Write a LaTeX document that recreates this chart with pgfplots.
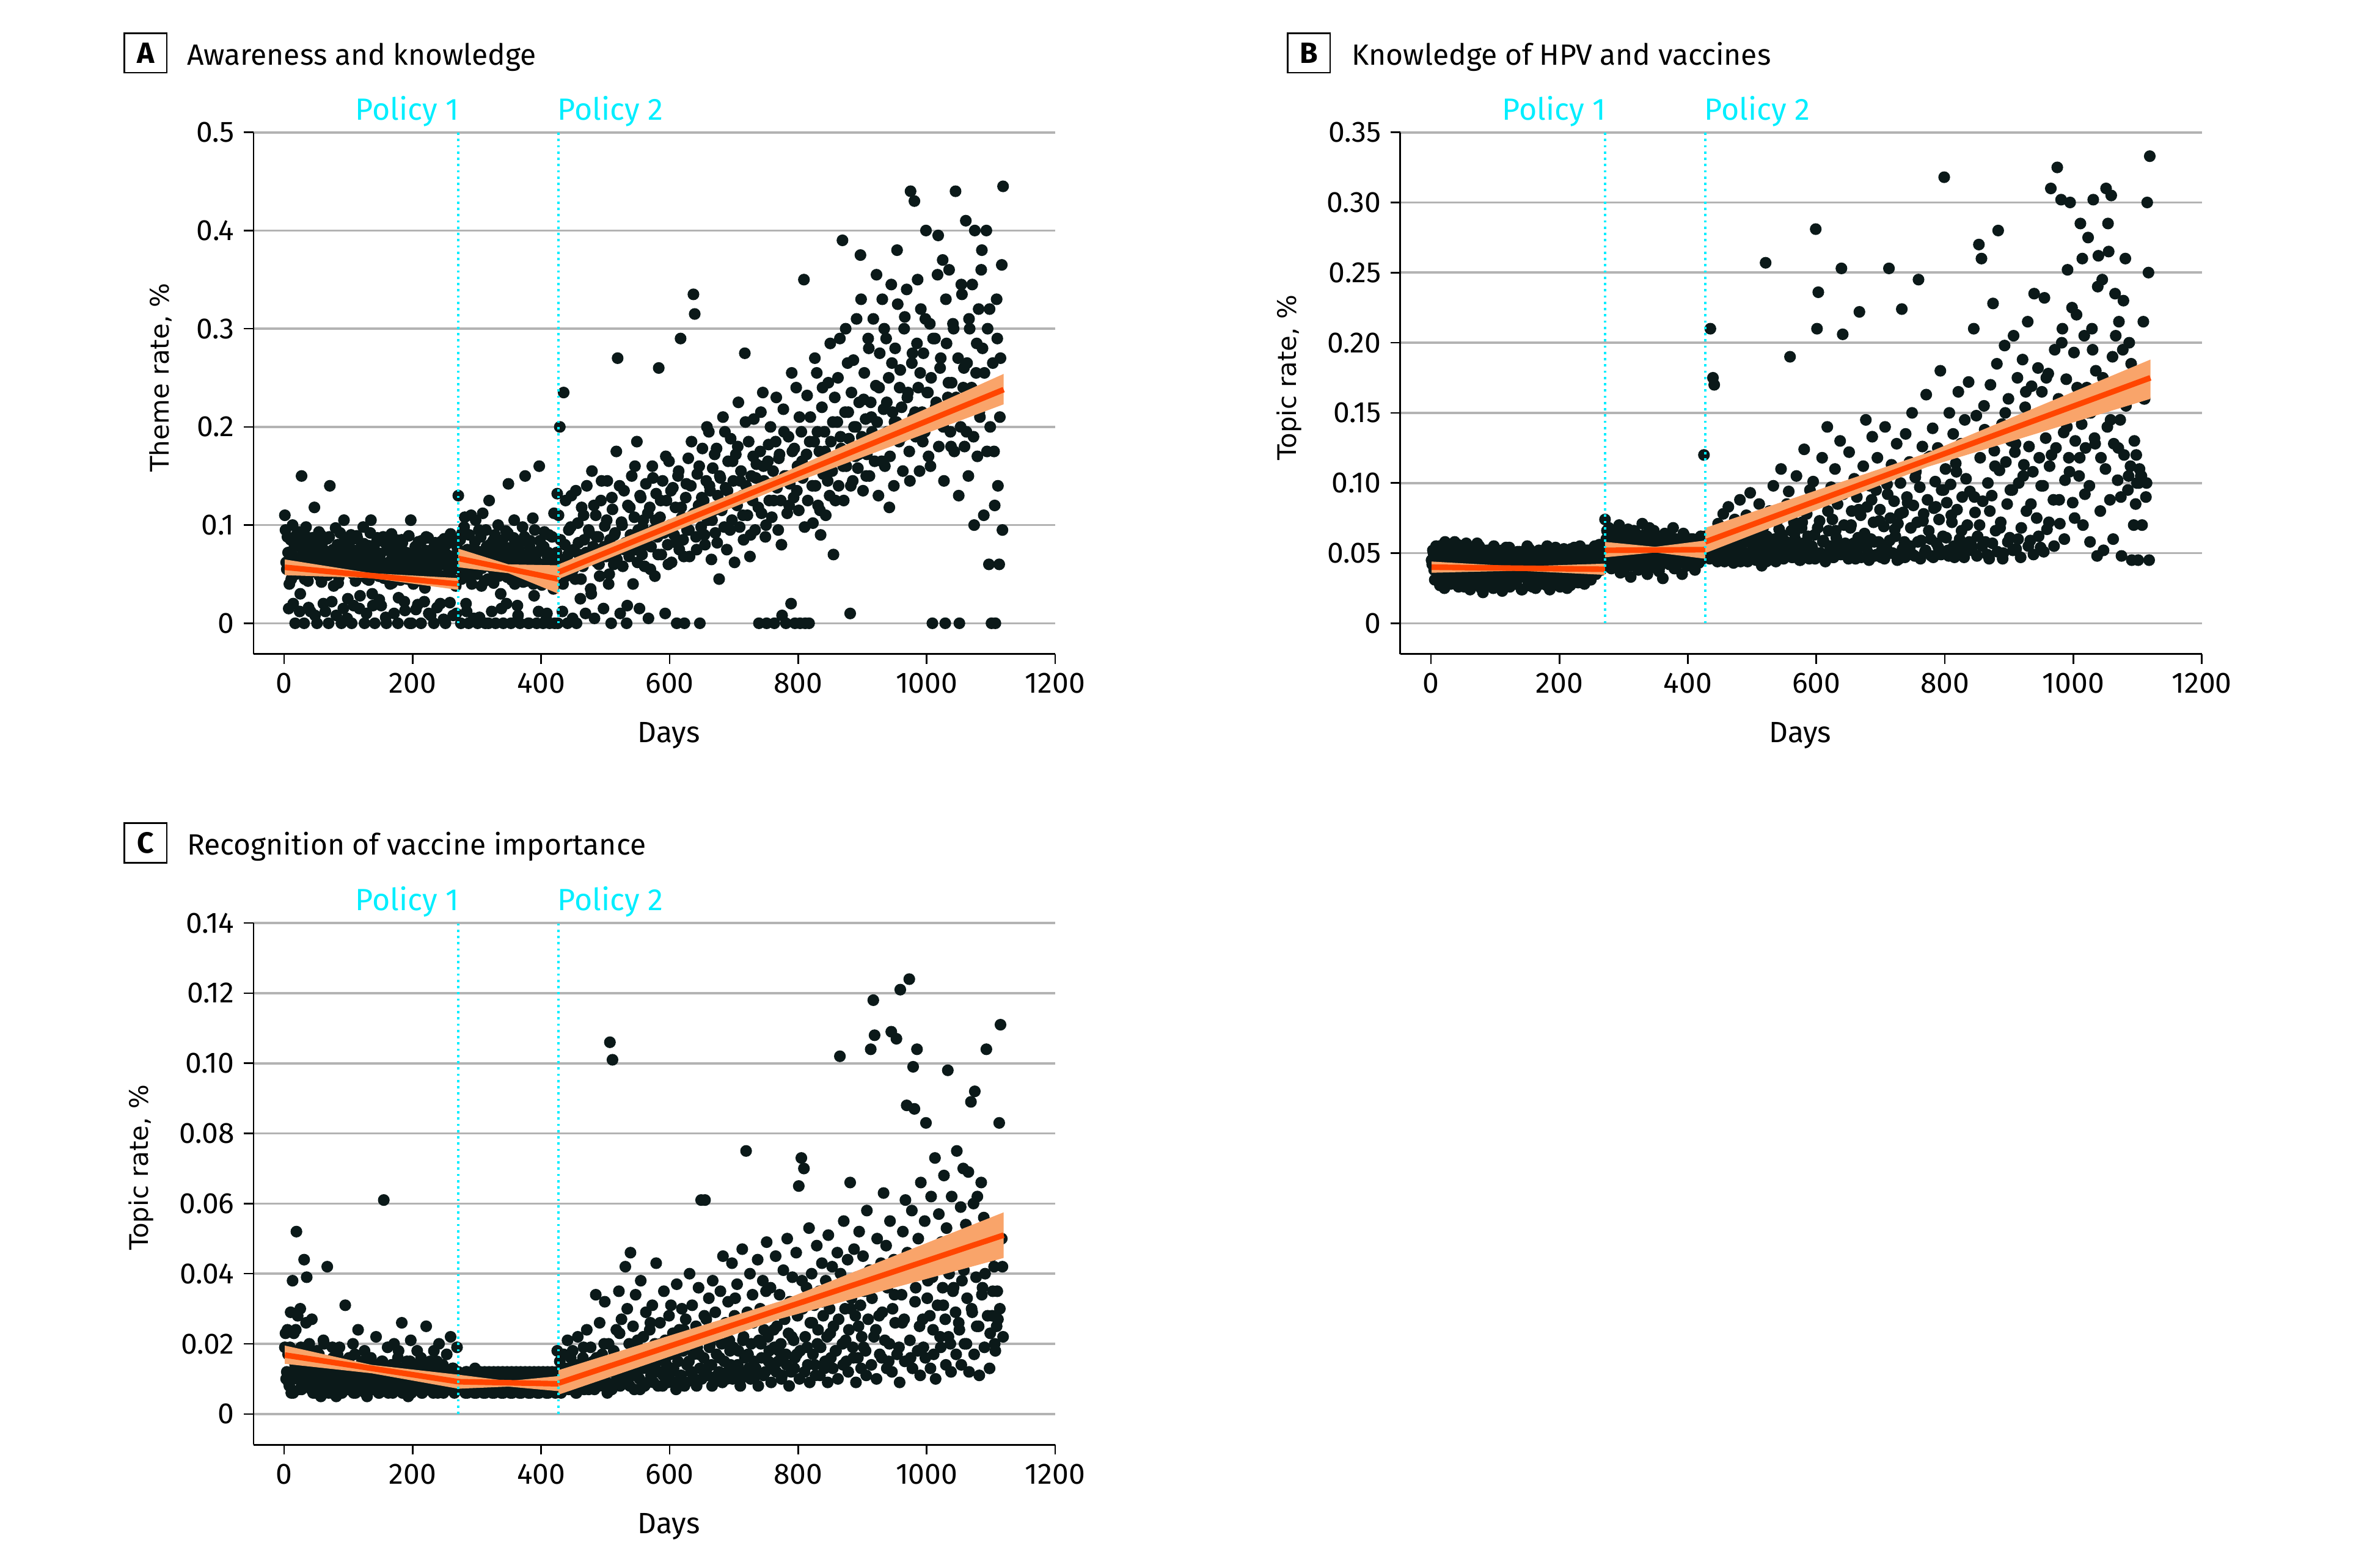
\documentclass[border=0pt]{standalone}
\usepackage{pgfplots}
\pgfplotsset{compat=1.18}
\usepackage{pgfplotstable}
\usepackage{fontspec}
\setmainfont{Fira Sans}
\newfontfamily\ylabfont{DejaVu Sans}
\definecolor{dotc}{HTML}{0B1919}
\definecolor{fitline}{HTML}{FF4500}
\definecolor{fitband}{HTML}{F9A46A}
\definecolor{polc}{HTML}{00EEFF}
\definecolor{gridc}{HTML}{B3B3B3}

% odd days
\pgfplotstableread{
d a b c
1 0.110 0.045 0.019
3 0.062 0.052 0.010
5 0.088 0.038 0.024
7 0.015 0.041 0.009
9 0.072 0.048 0.019
11 0.045 0.035 0.006
13 0.100 0.055 0.038
15 0.068 0.030 0.023
17 0.000 0.043 0.014
19 0.081 0.050 0.052
21 0.058 0.025 0.028
23 0.093 0.047 0.011
25 0.030 0.039 0.030
27 0.150 0.033 0.007
29 0.075 0.056 0.016
31 0.000 0.028 0.044
33 0.062 0.044 0.012
35 0.088 0.036 0.039
37 0.043 0.058 0.008
39 0.070 0.031 0.020
41 0.012 0.049 0.010
43 0.083 0.026 0.027
45 0.055 0.042 0.006
47 0.118 0.053 0.014
49 0.066 0.034 0.012
51 0.000 0.046 0.018
53 0.079 0.029 0.009
55 0.048 0.057 0.016
57 0.090 0.037 0.005
59 0.061 0.043 0.013
61 0.020 0.024 0.021
63 0.074 0.051 0.008
65 0.052 0.035 0.011
67 0.086 0.040 0.042
69 0.000 0.032 0.006
71 0.140 0.048 0.015
73 0.058 0.027 0.010
75 0.071 0.055 0.019
77 0.038 0.038 0.007
79 0.065 0.045 0.012
81 0.008 0.022 0.005
83 0.080 0.052 0.017
85 0.047 0.033 0.009
87 0.092 0.041 0.013
89 0.000 0.030 0.006
91 0.069 0.049 0.011
93 0.105 0.036 0.008
95 0.056 0.044 0.031
97 0.074 0.025 0.014
99 0.025 0.053 0.009
101 0.062 0.039 0.016
103 0.084 0.028 0.007
105 0.000 0.047 0.012
107 0.050 0.034 0.020
109 0.072 0.050 0.010
111 0.043 0.023 0.006
113 0.089 0.042 0.013
115 0.060 0.037 0.024
117 0.015 0.054 0.008
119 0.077 0.031 0.011
121 0.052 0.045 0.015
123 0.098 0.026 0.007
125 0.000 0.040 0.018
127 0.066 0.048 0.010
129 0.045 0.032 0.005
131 0.079 0.043 0.013
133 0.057 0.029 0.009
135 0.105 0.051 0.016
137 0.030 0.036 0.012
139 0.068 0.041 0.007
141 0.000 0.024 0.014
143 0.055 0.050 0.022
145 0.087 0.033 0.010
147 0.048 0.046 0.006
149 0.070 0.038 0.013
151 0.018 0.027 0.008
153 0.062 0.053 0.015
155 0.046 0.035 0.061
157 0.082 0.042 0.011
159 0.000 0.030 0.007
161 0.058 0.049 0.019
163 0.074 0.025 0.012
165 0.040 0.044 0.009
167 0.091 0.037 0.014
169 0.063 0.051 0.006
171 0.010 0.028 0.020
173 0.052 0.043 0.011
175 0.078 0.034 0.008
177 0.000 0.047 0.016
179 0.066 0.032 0.010
181 0.044 0.055 0.013
183 0.085 0.039 0.026
185 0.056 0.024 0.007
187 0.022 0.045 0.012
189 0.071 0.036 0.009
191 0.049 0.052 0.015
193 0.062 0.030 0.005
195 0.000 0.041 0.011
197 0.105 0.048 0.021
199 0.058 0.033 0.008
201 0.040 0.026 0.014
203 0.073 0.044 0.010
205 0.014 0.038 0.007
207 0.060 0.053 0.018
209 0.083 0.031 0.012
211 0.047 0.046 0.009
213 0.000 0.035 0.016
215 0.069 0.049 0.006
217 0.055 0.027 0.013
219 0.036 0.042 0.010
221 0.088 0.037 0.025
223 0.061 0.054 0.008
225 0.010 0.032 0.012
227 0.074 0.045 0.015
229 0.050 0.029 0.007
231 0.066 0.051 0.011
233 0.000 0.040 0.018
235 0.082 0.034 0.009
237 0.045 0.047 0.013
239 0.058 0.028 0.006
241 0.075 0.043 0.020
243 0.020 0.036 0.010
245 0.063 0.052 0.008
247 0.048 0.039 0.014
249 0.086 0.031 0.011
251 0.000 0.048 0.007
253 0.070 0.044 0.017
255 0.042 0.055 0.012
257 0.059 0.035 0.009
259 0.091 0.050 0.022
261 0.054 0.042 0.010
263 0.008 0.046 0.013
265 0.067 0.038 0.006
267 0.038 0.053 0.011
269 0.078 0.045 0.019
271 0.130 0.074 0.012
273 0.055 0.060 0.008
275 0.000 0.045 0.010
277 0.092 0.068 0.007
279 0.062 0.051 0.011
281 0.108 0.039 0.009
283 0.020 0.058 0.012
285 0.075 0.047 0.006
287 0.000 0.063 0.010
289 0.048 0.053 0.008
291 0.110 0.044 0.011
293 0.066 0.070 0.007
295 0.005 0.036 0.009
297 0.083 0.056 0.013
299 0.058 0.049 0.006
301 0.000 0.061 0.010
303 0.095 0.042 0.008
305 0.070 0.052 0.012
307 0.038 0.067 0.007
309 0.112 0.047 0.009
311 0.061 0.033 0.011
313 0.000 0.059 0.006
315 0.078 0.050 0.010
317 0.045 0.041 0.008
319 0.125 0.064 0.012
321 0.067 0.054 0.007
323 0.012 0.038 0.009
325 0.084 0.057 0.011
327 0.052 0.046 0.006
329 0.000 0.071 0.010
331 0.073 0.050 0.008
333 0.100 0.043 0.012
335 0.058 0.062 0.007
337 0.030 0.035 0.009
339 0.081 0.055 0.011
341 0.000 0.048 0.006
343 0.064 0.058 0.010
345 0.094 0.040 0.008
347 0.047 0.066 0.012
349 0.142 0.051 0.007
351 0.069 0.045 0.009
353 0.000 0.053 0.011
355 0.056 0.037 0.006
357 0.087 0.060 0.010
359 0.040 0.049 0.008
361 0.065 0.032 0.012
363 0.018 0.056 0.007
365 0.076 0.044 0.009
367 0.000 0.061 0.011
369 0.052 0.050 0.006
371 0.098 0.042 0.010
373 0.062 0.057 0.008
375 0.150 0.047 0.012
377 0.043 0.068 0.007
379 0.070 0.039 0.009
381 0.000 0.054 0.011
383 0.084 0.046 0.006
385 0.055 0.059 0.010
387 0.107 0.043 0.008
389 0.028 0.052 0.012
391 0.066 0.035 0.007
393 0.000 0.064 0.009
395 0.048 0.048 0.011
397 0.160 0.056 0.006
399 0.075 0.041 0.010
401 0.039 0.053 0.008
403 0.000 0.047 0.012
405 0.093 0.060 0.007
407 0.058 0.044 0.009
409 0.010 0.051 0.011
411 0.072 0.038 0.006
413 0.000 0.058 0.010
415 0.046 0.049 0.008
417 0.088 0.043 0.012
419 0.035 0.055 0.007
421 0.000 0.050 0.009
423 0.062 0.046 0.011
425 0.132 0.120 0.018
427 0.110 0.062 0.008
429 0.200 0.048 0.015
431 0.065 0.055 0.006
433 0.012 0.050 0.010
435 0.235 0.210 0.017
437 0.080 0.058 0.012
439 0.048 0.175 0.009
441 0.000 0.170 0.021
443 0.095 0.052 0.007
445 0.060 0.045 0.013
447 0.130 0.071 0.011
449 0.005 0.049 0.018
451 0.075 0.066 0.008
453 0.045 0.053 0.014
455 0.000 0.078 0.006
457 0.102 0.044 0.022
459 0.070 0.060 0.010
461 0.025 0.051 0.012
463 0.118 0.083 0.009
465 0.058 0.047 0.016
467 0.085 0.064 0.007
469 0.010 0.056 0.011
471 0.140 0.043 0.024
473 0.066 0.074 0.013
475 0.092 0.052 0.008
477 0.035 0.061 0.019
479 0.155 0.048 0.010
481 0.078 0.088 0.015
483 0.005 0.055 0.007
485 0.110 0.046 0.034
487 0.062 0.069 0.012
489 0.088 0.050 0.009
491 0.048 0.077 0.026
493 0.125 0.044 0.011
495 0.072 0.058 0.017
497 0.015 0.093 0.008
499 0.099 0.051 0.032
501 0.068 0.065 0.013
503 0.145 0.047 0.006
505 0.040 0.072 0.020
507 0.085 0.057 0.106
509 0.000 0.049 0.012
511 0.116 0.085 0.101
513 0.060 0.053 0.018
515 0.092 0.041 0.009
517 0.175 0.068 0.024
519 0.270 0.050 0.013
521 0.075 0.257 0.035
523 0.010 0.062 0.008
525 0.103 0.045 0.027
527 0.058 0.080 0.015
529 0.135 0.055 0.011
531 0.082 0.048 0.042
533 0.000 0.098 0.016
535 0.120 0.060 0.009
537 0.068 0.044 0.020
539 0.090 0.073 0.046
541 0.150 0.056 0.012
543 0.040 0.050 0.025
545 0.108 0.110 0.007
547 0.075 0.063 0.034
549 0.185 0.046 0.014
551 0.095 0.079 0.019
553 0.015 0.058 0.010
555 0.128 0.051 0.038
557 0.070 0.094 0.016
559 0.105 0.190 0.022
561 0.058 0.066 0.008
563 0.142 0.047 0.029
565 0.085 0.072 0.013
567 0.005 0.060 0.017
569 0.118 0.105 0.024
571 0.078 0.053 0.011
573 0.160 0.085 0.031
575 0.095 0.045 0.009
577 0.048 0.068 0.020
579 0.132 0.057 0.043
581 0.088 0.124 0.015
583 0.260 0.049 0.012
585 0.108 0.078 0.026
587 0.070 0.062 0.018
589 0.145 0.046 0.008
591 0.092 0.090 0.035
593 0.010 0.055 0.021
595 0.125 0.101 0.014
597 0.080 0.063 0.010
599 0.165 0.281 0.028
601 0.100 0.210 0.017
603 0.062 0.236 0.012
605 0.138 0.073 0.023
607 0.090 0.050 0.019
609 0.118 0.118 0.009
611 0.000 0.059 0.037
613 0.150 0.087 0.015
615 0.075 0.048 0.024
617 0.290 0.140 0.011
619 0.108 0.066 0.030
621 0.085 0.055 0.018
623 0.000 0.097 0.008
625 0.128 0.074 0.027
627 0.095 0.047 0.014
629 0.168 0.110 0.021
631 0.068 0.061 0.040
633 0.140 0.085 0.012
635 0.110 0.052 0.031
637 0.335 0.130 0.017
639 0.315 0.253 0.010
641 0.088 0.206 0.025
643 0.152 0.070 0.019
645 0.120 0.057 0.036
647 0.000 0.095 0.013
649 0.098 0.049 0.061
651 0.178 0.122 0.022
653 0.125 0.068 0.016
655 0.080 0.080 0.061
657 0.145 0.054 0.027
659 0.105 0.103 0.011
661 0.195 0.046 0.033
663 0.135 0.090 0.020
665 0.065 0.061 0.014
667 0.158 0.222 0.038
669 0.115 0.077 0.009
671 0.092 0.055 0.029
673 0.178 0.112 0.017
675 0.130 0.064 0.024
677 0.045 0.145 0.012
679 0.148 0.083 0.035
681 0.115 0.050 0.020
683 0.210 0.098 0.045
685 0.098 0.060 0.015
687 0.138 0.133 0.026
689 0.075 0.072 0.010
691 0.165 0.048 0.032
693 0.125 0.095 0.021
695 0.188 0.118 0.014
697 0.105 0.058 0.043
699 0.145 0.081 0.019
701 0.062 0.047 0.028
703 0.172 0.106 0.012
705 0.120 0.069 0.037
707 0.225 0.140 0.018
709 0.098 0.054 0.025
711 0.155 0.092 0.010
713 0.130 0.253 0.047
715 0.085 0.075 0.022
717 0.275 0.113 0.016
719 0.140 0.050 0.075
721 0.110 0.087 0.029
723 0.185 0.062 0.013
725 0.068 0.128 0.040
727 0.150 0.071 0.020
729 0.125 0.046 0.034
731 0.208 0.100 0.015
733 0.095 0.224 0.027
735 0.162 0.079 0.011
737 0.135 0.058 0.044
739 0.000 0.135 0.021
741 0.175 0.090 0.030
743 0.112 0.052 0.016
745 0.235 0.115 0.038
747 0.145 0.068 0.024
749 0.088 0.150 0.012
751 0.000 0.084 0.049
753 0.165 0.048 0.022
755 0.125 0.108 0.018
757 0.200 0.072 0.036
759 0.108 0.245 0.013
761 0.155 0.097 0.029
763 0.000 0.059 0.019
765 0.185 0.126 0.045
767 0.138 0.078 0.025
769 0.095 0.051 0.015
771 0.172 0.163 0.034
773 0.125 0.088 0.020
775 0.008 0.066 0.011
777 0.218 0.119 0.041
779 0.150 0.048 0.027
781 0.000 0.139 0.017
783 0.112 0.082 0.050
785 0.190 0.101 0.023
787 0.142 0.057 0.032
789 0.020 0.125 0.012
791 0.175 0.074 0.039
793 0.128 0.180 0.021
795 0.000 0.095 0.016
797 0.240 0.062 0.046
799 0.160 0.318 0.028
801 0.115 0.110 0.065
803 0.000 0.086 0.018
805 0.195 0.052 0.073
807 0.148 0.150 0.030
809 0.350 0.099 0.070
811 0.000 0.072 0.022
813 0.172 0.135 0.036
815 0.125 0.047 0.014
817 0.000 0.114 0.053
819 0.210 0.081 0.026
821 0.158 0.165 0.040
823 0.102 0.060 0.017
825 0.185 0.128 0.031
827 0.140 0.090 0.011
829 0.255 0.053 0.048
831 0.120 0.145 0.024
833 0.175 0.103 0.035
835 0.090 0.070 0.019
837 0.220 0.172 0.043
839 0.152 0.094 0.028
841 0.195 0.056 0.013
843 0.110 0.129 0.038
845 0.168 0.210 0.022
847 0.245 0.079 0.051
849 0.130 0.148 0.030
851 0.185 0.062 0.016
853 0.155 0.270 0.042
855 0.070 0.118 0.025
857 0.230 0.260 0.034
859 0.168 0.087 0.018
861 0.205 0.155 0.046
863 0.140 0.058 0.027
865 0.290 0.133 0.102
867 0.178 0.100 0.037
869 0.390 0.046 0.020
871 0.125 0.170 0.055
873 0.215 0.091 0.030
875 0.160 0.228 0.015
877 0.265 0.123 0.044
879 0.188 0.066 0.024
881 0.010 0.185 0.066
883 0.235 0.280 0.033
885 0.145 0.109 0.019
887 0.200 0.072 0.047
889 0.170 0.142 0.028
891 0.310 0.050 0.039
893 0.158 0.198 0.016
895 0.225 0.115 0.052
897 0.375 0.085 0.031
899 0.190 0.160 0.022
901 0.135 0.061 0.045
903 0.255 0.130 0.035
905 0.208 0.095 0.018
907 0.172 0.205 0.058
909 0.290 0.122 0.027
911 0.150 0.053 0.041
913 0.225 0.175 0.104
915 0.195 0.100 0.033
917 0.310 0.140 0.118
919 0.165 0.068 0.108
921 0.242 0.188 0.024
923 0.205 0.113 0.050
925 0.130 0.154 0.038
927 0.275 0.080 0.017
929 0.185 0.215 0.043
931 0.330 0.126 0.029
933 0.218 0.059 0.063
935 0.160 0.169 0.021
937 0.290 0.108 0.048
939 0.195 0.235 0.036
941 0.250 0.140 0.015
943 0.170 0.075 0.055
945 0.345 0.182 0.109
947 0.215 0.118 0.030
949 0.140 0.054 0.044
951 0.280 0.165 0.026
953 0.205 0.098 0.107
955 0.325 0.232 0.040
957 0.185 0.132 0.019
959 0.258 0.067 0.121
961 0.220 0.178 0.034
963 0.155 0.112 0.052
965 0.300 0.310 0.027
967 0.200 0.148 0.061
969 0.340 0.088 0.088
971 0.235 0.195 0.045
973 0.175 0.125 0.124
975 0.440 0.325 0.016
977 0.265 0.160 0.058
979 0.210 0.071 0.099
981 0.430 0.302 0.087
983 0.190 0.210 0.036
985 0.285 0.136 0.104
987 0.240 0.102 0.050
989 0.155 0.174 0.025
991 0.320 0.252 0.066
993 0.215 0.118 0.041
995 0.275 0.300 0.019
997 0.195 0.154 0.055
999 0.400 0.086 0.083
1001 0.235 0.193 0.033
1003 0.170 0.130 0.047
1005 0.305 0.220 0.028
1007 0.250 0.162 0.062
1009 0.000 0.105 0.039
1011 0.205 0.285 0.017
1013 0.290 0.142 0.073
1015 0.225 0.070 0.044
1017 0.355 0.205 0.031
1019 0.180 0.125 0.057
1021 0.260 0.168 0.022
1023 0.210 0.275 0.049
1025 0.370 0.098 0.036
1027 0.145 0.150 0.068
1029 0.000 0.210 0.027
1031 0.285 0.302 0.053
1033 0.230 0.132 0.098
1035 0.360 0.180 0.040
1037 0.195 0.048 0.020
1039 0.245 0.262 0.062
1041 0.305 0.160 0.035
1043 0.175 0.118 0.050
1045 0.440 0.245 0.029
1047 0.220 0.052 0.075
1049 0.270 0.172 0.045
1051 0.000 0.310 0.024
1053 0.200 0.140 0.059
1055 0.335 0.265 0.038
1057 0.240 0.088 0.070
1059 0.180 0.305 0.020
1061 0.410 0.190 0.054
1063 0.265 0.128 0.033
1065 0.150 0.235 0.069
1067 0.300 0.165 0.044
1069 0.225 0.102 0.089
1071 0.345 0.215 0.029
1073 0.190 0.145 0.060
1075 0.400 0.048 0.092
1077 0.255 0.195 0.039
1079 0.170 0.120 0.062
1081 0.320 0.260 0.025
1083 0.210 0.160 0.048
1085 0.360 0.095 0.066
1087 0.280 0.200 0.036
1089 0.110 0.112 0.056
1091 0.235 0.045 0.040
1093 0.400 0.175 0.104
1095 0.300 0.130 0.028
1097 0.060 0.085 0.050
1099 0.200 0.100 0.023
1101 0.000 0.045 0.045
1103 0.265 0.110 0.035
1105 0.175 0.105 0.042
1107 0.000 0.070 0.018
1109 0.330 0.215 0.025
1111 0.140 0.160 0.027
1113 0.060 0.090 0.083
1115 0.270 0.300 0.111
1117 0.365 0.250 0.050
1119 0.445 0.333 0.022
}\data

% even days
\pgfplotstableread{
d a b c
2 0.095 0.042 0.023
4 0.055 0.050 0.012
6 0.072 0.031 0.017
8 0.040 0.055 0.008
10 0.085 0.038 0.029
12 0.062 0.046 0.011
14 0.020 0.027 0.006
16 0.078 0.052 0.016
18 0.050 0.036 0.024
20 0.091 0.044 0.010
22 0.067 0.058 0.013
24 0.012 0.032 0.007
26 0.082 0.047 0.019
28 0.058 0.040 0.011
30 0.073 0.029 0.008
32 0.045 0.054 0.014
34 0.098 0.037 0.026
36 0.064 0.048 0.009
38 0.016 0.033 0.012
40 0.079 0.043 0.018
42 0.052 0.056 0.007
44 0.087 0.030 0.010
46 0.061 0.045 0.015
48 0.008 0.039 0.006
50 0.076 0.051 0.013
52 0.056 0.026 0.009
54 0.093 0.042 0.017
56 0.068 0.035 0.011
58 0.042 0.049 0.008
60 0.083 0.031 0.012
62 0.059 0.053 0.020
64 0.012 0.040 0.007
66 0.071 0.028 0.010
68 0.049 0.046 0.014
70 0.088 0.038 0.009
72 0.063 0.057 0.012
74 0.022 0.034 0.006
76 0.075 0.044 0.016
78 0.054 0.025 0.011
80 0.097 0.050 0.008
82 0.066 0.037 0.013
84 0.041 0.043 0.007
86 0.080 0.031 0.019
88 0.057 0.052 0.010
90 0.070 0.040 0.006
92 0.015 0.027 0.012
94 0.084 0.047 0.015
96 0.060 0.035 0.008
98 0.005 0.055 0.011
100 0.077 0.033 0.007
102 0.053 0.045 0.014
104 0.090 0.029 0.009
106 0.065 0.049 0.012
108 0.018 0.038 0.006
110 0.074 0.052 0.017
112 0.051 0.032 0.010
114 0.086 0.041 0.008
116 0.062 0.026 0.013
118 0.028 0.046 0.007
120 0.072 0.036 0.011
122 0.048 0.054 0.009
124 0.081 0.030 0.015
126 0.059 0.043 0.006
128 0.010 0.039 0.012
130 0.069 0.050 0.008
132 0.044 0.028 0.010
134 0.092 0.045 0.014
136 0.063 0.034 0.007
138 0.018 0.051 0.011
140 0.076 0.037 0.009
142 0.054 0.024 0.013
144 0.083 0.047 0.008
146 0.061 0.033 0.012
148 0.024 0.042 0.006
150 0.071 0.055 0.010
152 0.049 0.031 0.015
154 0.088 0.044 0.007
156 0.058 0.038 0.011
158 0.006 0.026 0.009
160 0.075 0.050 0.013
162 0.052 0.035 0.006
164 0.080 0.043 0.010
166 0.064 0.029 0.008
168 0.041 0.052 0.014
170 0.073 0.040 0.011
172 0.047 0.032 0.007
174 0.085 0.048 0.012
176 0.060 0.036 0.009
178 0.026 0.045 0.018
180 0.069 0.027 0.008
182 0.050 0.053 0.011
184 0.082 0.038 0.006
186 0.057 0.044 0.013
188 0.013 0.031 0.010
190 0.072 0.049 0.007
192 0.045 0.037 0.012
194 0.089 0.054 0.009
196 0.062 0.030 0.015
198 0.000 0.042 0.006
200 0.070 0.046 0.010
202 0.048 0.028 0.008
204 0.078 0.051 0.013
206 0.055 0.034 0.007
208 0.019 0.040 0.011
210 0.067 0.047 0.009
212 0.043 0.025 0.012
214 0.084 0.044 0.006
216 0.059 0.039 0.010
218 0.022 0.053 0.014
220 0.074 0.033 0.008
222 0.051 0.046 0.011
224 0.087 0.037 0.007
226 0.063 0.050 0.013
228 0.008 0.030 0.009
230 0.070 0.043 0.012
232 0.046 0.055 0.006
234 0.079 0.036 0.010
236 0.056 0.048 0.008
238 0.016 0.029 0.015
240 0.066 0.044 0.011
242 0.044 0.052 0.007
244 0.083 0.038 0.009
246 0.060 0.046 0.013
248 0.004 0.033 0.006
250 0.072 0.049 0.010
252 0.049 0.041 0.008
254 0.081 0.054 0.012
256 0.057 0.037 0.009
258 0.021 0.047 0.011
260 0.068 0.043 0.007
262 0.045 0.056 0.013
264 0.085 0.040 0.010
266 0.061 0.050 0.008
268 0.010 0.044 0.012
270 0.074 0.052 0.009
272 0.060 0.055 0.009
274 0.085 0.066 0.007
276 0.045 0.049 0.011
278 0.072 0.058 0.008
280 0.098 0.043 0.010
282 0.055 0.062 0.006
284 0.012 0.051 0.012
286 0.068 0.040 0.009
288 0.090 0.057 0.007
290 0.058 0.048 0.011
292 0.040 0.065 0.008
294 0.076 0.053 0.010
296 0.062 0.044 0.006
298 0.105 0.060 0.012
300 0.050 0.037 0.009
302 0.073 0.055 0.007
304 0.006 0.049 0.011
306 0.088 0.064 0.008
308 0.056 0.045 0.010
310 0.070 0.058 0.006
312 0.043 0.041 0.012
314 0.095 0.053 0.009
316 0.062 0.066 0.007
318 0.000 0.047 0.011
320 0.080 0.056 0.008
322 0.057 0.039 0.010
324 0.069 0.061 0.006
326 0.041 0.050 0.012
328 0.090 0.044 0.009
330 0.060 0.057 0.007
332 0.075 0.063 0.011
334 0.048 0.042 0.008
336 0.066 0.054 0.010
338 0.015 0.048 0.006
340 0.085 0.068 0.012
342 0.055 0.045 0.009
344 0.071 0.052 0.007
346 0.020 0.059 0.011
348 0.092 0.043 0.008
350 0.059 0.056 0.010
352 0.077 0.049 0.006
354 0.044 0.062 0.012
356 0.064 0.040 0.009
358 0.105 0.053 0.007
360 0.050 0.057 0.011
362 0.073 0.046 0.008
364 0.008 0.064 0.010
366 0.082 0.051 0.006
368 0.058 0.044 0.012
370 0.067 0.058 0.009
372 0.042 0.050 0.007
374 0.088 0.061 0.011
376 0.053 0.043 0.008
378 0.070 0.055 0.010
380 0.000 0.048 0.006
382 0.078 0.060 0.012
384 0.056 0.042 0.009
386 0.065 0.053 0.007
388 0.040 0.058 0.011
390 0.095 0.046 0.008
392 0.052 0.051 0.010
394 0.072 0.063 0.006
396 0.012 0.044 0.012
398 0.084 0.056 0.009
400 0.060 0.049 0.007
402 0.046 0.058 0.011
404 0.078 0.045 0.008
406 0.055 0.053 0.010
408 0.004 0.060 0.006
410 0.068 0.047 0.012
412 0.090 0.055 0.009
414 0.050 0.043 0.007
416 0.063 0.057 0.011
418 0.040 0.050 0.008
420 0.112 0.062 0.010
422 0.055 0.046 0.006
424 0.072 0.054 0.012
426 0.000 0.050 0.009
430 0.085 0.050 0.011
434 0.040 0.046 0.007
438 0.125 0.060 0.013
442 0.070 0.052 0.009
446 0.098 0.044 0.016
450 0.055 0.057 0.010
454 0.135 0.049 0.006
458 0.082 0.065 0.014
462 0.045 0.048 0.008
466 0.110 0.055 0.019
470 0.072 0.046 0.011
474 0.095 0.059 0.007
478 0.030 0.051 0.013
482 0.120 0.044 0.010
486 0.088 0.063 0.016
490 0.060 0.050 0.008
494 0.145 0.047 0.012
498 0.078 0.070 0.020
502 0.105 0.053 0.009
506 0.050 0.045 0.014
510 0.128 0.061 0.007
514 0.090 0.048 0.017
518 0.065 0.056 0.011
522 0.140 0.044 0.023
526 0.100 0.075 0.009
530 0.075 0.050 0.013
534 0.018 0.058 0.030
538 0.118 0.046 0.008
542 0.088 0.067 0.016
546 0.160 0.052 0.011
550 0.062 0.049 0.021
554 0.130 0.085 0.007
558 0.098 0.055 0.013
562 0.080 0.047 0.018
566 0.112 0.064 0.009
570 0.055 0.051 0.026
574 0.148 0.045 0.012
578 0.105 0.072 0.015
582 0.070 0.056 0.008
586 0.125 0.048 0.020
590 0.092 0.095 0.011
594 0.170 0.053 0.016
598 0.060 0.046 0.009
602 0.135 0.068 0.031
606 0.100 0.050 0.013
610 0.082 0.058 0.007
614 0.155 0.044 0.018
618 0.118 0.080 0.011
622 0.068 0.052 0.024
626 0.142 0.047 0.009
630 0.095 0.066 0.015
634 0.185 0.055 0.012
638 0.112 0.049 0.020
642 0.075 0.092 0.008
646 0.160 0.053 0.017
650 0.128 0.046 0.010
654 0.090 0.070 0.028
658 0.200 0.057 0.013
662 0.140 0.050 0.019
666 0.105 0.081 0.008
670 0.172 0.047 0.022
674 0.082 0.061 0.011
678 0.150 0.054 0.016
682 0.118 0.045 0.009
686 0.195 0.088 0.025
690 0.135 0.058 0.012
694 0.095 0.049 0.018
698 0.165 0.073 0.010
702 0.122 0.052 0.033
706 0.180 0.046 0.014
710 0.145 0.099 0.008
714 0.110 0.059 0.021
718 0.205 0.050 0.012
722 0.132 0.067 0.017
726 0.090 0.045 0.010
730 0.170 0.078 0.026
734 0.148 0.053 0.013
738 0.118 0.047 0.008
742 0.215 0.086 0.020
746 0.160 0.055 0.011
750 0.100 0.049 0.035
754 0.182 0.104 0.015
758 0.142 0.058 0.009
762 0.125 0.046 0.024
766 0.230 0.073 0.012
770 0.168 0.052 0.018
774 0.080 0.118 0.010
778 0.195 0.060 0.029
782 0.150 0.047 0.014
786 0.120 0.083 0.008
790 0.255 0.054 0.022
794 0.178 0.049 0.013
798 0.135 0.095 0.017
802 0.210 0.061 0.010
806 0.165 0.048 0.038
810 0.098 0.077 0.012
814 0.232 0.055 0.019
818 0.185 0.108 0.009
822 0.140 0.050 0.026
826 0.270 0.066 0.014
830 0.195 0.047 0.020
834 0.115 0.125 0.011
838 0.240 0.058 0.032
842 0.175 0.052 0.015
846 0.145 0.090 0.009
850 0.285 0.048 0.023
854 0.205 0.070 0.013
858 0.125 0.055 0.018
862 0.250 0.138 0.010
866 0.190 0.049 0.040
870 0.160 0.080 0.014
874 0.300 0.057 0.021
878 0.215 0.112 0.012
882 0.140 0.051 0.030
886 0.268 0.068 0.016
890 0.200 0.046 0.009
894 0.172 0.150 0.025
898 0.330 0.058 0.013
902 0.228 0.095 0.019
906 0.150 0.052 0.011
910 0.280 0.128 0.036
914 0.210 0.060 0.014
918 0.180 0.047 0.022
922 0.355 0.105 0.010
926 0.240 0.165 0.028
930 0.165 0.055 0.016
934 0.300 0.085 0.042
938 0.225 0.049 0.013
942 0.118 0.140 0.020
946 0.265 0.062 0.012
950 0.205 0.098 0.034
954 0.380 0.051 0.017
958 0.240 0.175 0.009
962 0.190 0.072 0.026
966 0.312 0.120 0.015
970 0.230 0.055 0.046
974 0.145 0.155 0.021
978 0.275 0.088 0.013
982 0.215 0.200 0.032
986 0.350 0.060 0.018
990 0.255 0.140 0.011
994 0.185 0.108 0.027
998 0.310 0.225 0.016
1002 0.235 0.075 0.038
1006 0.160 0.168 0.013
1010 0.290 0.118 0.024
1014 0.220 0.260 0.010
1018 0.395 0.092 0.045
1022 0.270 0.150 0.019
1026 0.200 0.058 0.031
1030 0.330 0.195 0.014
1034 0.245 0.128 0.022
1038 0.180 0.240 0.012
1042 0.300 0.080 0.036
1046 0.230 0.175 0.017
1050 0.130 0.110 0.026
1054 0.345 0.285 0.014
1058 0.260 0.145 0.041
1062 0.195 0.060 0.020
1066 0.310 0.205 0.012
1070 0.240 0.125 0.030
1074 0.100 0.090 0.017
1078 0.285 0.230 0.025
1082 0.215 0.155 0.011
1086 0.380 0.105 0.034
1090 0.255 0.185 0.019
1094 0.175 0.070 0.046
1098 0.320 0.120 0.013
1102 0.230 0.100 0.028
1106 0.120 0.105 0.020
1110 0.290 0.160 0.035
1114 0.210 0.100 0.030
1118 0.095 0.045 0.042
}\dataE

\pgfplotsset{
  panel/.style={
    scale only axis, width=105.7mm, height=68.82mm,
    anchor=south west,
    xmin=-47.7, xmax=1200, clip=false, clip marker paths=true,
    axis lines*=left,
    axis line style={line width=0.6pt, black},
    tick align=outside, major tick length=1.3mm,
    tick style={line width=0.6pt, black},
    xtick={0,200,400,600,800,1000,1200},
    xticklabels={0,200,400,600,800,1000,1200},
    ymajorgrids, grid style={color=gridc, line width=0.85pt},
    ticklabel style={font=\fontsize{11}{13}\selectfont},
  },
  dots/.style={only marks, mark=*, mark size=2pt, color=dotc, mark options={draw=dotc, fill=dotc}},
  band/.style={fill=fitband, draw=none},
  fit/.style={color=fitline, line width=2.1pt},
  pline/.style={color=polc, line width=0.85pt, dash pattern=on 0.85pt off 1.5pt},
}
\tikzset{
  plab/.style={color=polc, inner sep=0pt, font=\fontsize{11.5}{13}\selectfont},
  pbox/.style={draw, line width=0.6pt, minimum width=5.6mm, minimum height=5.2mm, inner sep=0pt, font=\bfseries\fontsize{11}{13}\selectfont},
  ptitle/.style={anchor=base west, inner sep=0pt, font=\fontsize{11}{13}\selectfont},
  ylab/.style={rotate=90, font=\ylabfont\fontsize{9.6}{11}\selectfont},
  xlab/.style={font=\fontsize{11}{13}\selectfont},
}

\begin{document}
\begin{tikzpicture}
\useasboundingbox (0,0) rectangle (313.6mm,206.8mm);

% ---------------- Panel A ----------------
\begin{axis}[panel, at={(33.44mm,120.52mm)},
  ymin=-0.03135, ymax=0.5,
  ytick={0,0.1,0.2,0.3,0.4,0.5}, yticklabels={0,0.1,0.2,0.3,0.4,0.5}]
\addplot[dots] table[x=d, y=a] {\data};
\addplot[dots] table[x=d, y=a] {\dataE};
\addplot[band] coordinates {(1,0.065)(136,0.051)(271,0.046)(271,0.034)(136,0.046)(1,0.049)};
\addplot[band] coordinates {(271,0.076)(349,0.060)(427,0.059)(427,0.030)(349,0.051)(271,0.057)};
\addplot[band] coordinates {(427,0.060)(773,0.152)(1120,0.254)(1120,0.223)(773,0.138)(427,0.045)};
\addplot[fit] coordinates {(1,0.057)(271,0.040)};
\addplot[fit] coordinates {(271,0.066)(427,0.045)};
\addplot[fit] coordinates {(427,0.052)(1120,0.238)};
\addplot[pline] coordinates {(271,0)(271,0.5)};
\addplot[pline] coordinates {(427,0)(427,0.5)};
\node[plab, anchor=base east] at ([yshift=1.66mm]axis cs:273,0.5) {Policy 1};
\node[plab, anchor=base west] at ([yshift=1.66mm]axis cs:425,0.5) {Policy 2};
\end{axis}

% ---------------- Panel B ----------------
\begin{axis}[panel, at={(184.66mm,120.52mm)},
  ymin=-0.02195, ymax=0.35,
  ytick={0,0.05,0.10,0.15,0.20,0.25,0.30,0.35},
  yticklabels={0,0.05,0.10,0.15,0.20,0.25,0.30,0.35}]
\addplot[dots] table[x=d, y=b] {\data};
\addplot[dots] table[x=d, y=b] {\dataE};
\addplot[band] coordinates {(1,0.044)(136,0.0405)(271,0.0425)(271,0.0345)(136,0.0375)(1,0.036)};
\addplot[band] coordinates {(271,0.058)(349,0.0545)(427,0.059)(427,0.046)(349,0.0505)(271,0.047)};
\addplot[band] coordinates {(427,0.068)(773,0.1215)(1120,0.188)(1120,0.160)(773,0.1115)(427,0.050)};
\addplot[fit] coordinates {(1,0.040)(271,0.0385)};
\addplot[fit] coordinates {(271,0.052)(427,0.0525)};
\addplot[fit] coordinates {(427,0.058)(1120,0.175)};
\addplot[pline] coordinates {(271,0)(271,0.35)};
\addplot[pline] coordinates {(427,0)(427,0.35)};
\node[plab, anchor=base east] at ([yshift=1.66mm]axis cs:273,0.35) {Policy 1};
\node[plab, anchor=base west] at ([yshift=1.66mm]axis cs:425,0.35) {Policy 2};
\end{axis}

% ---------------- Panel C ----------------
\begin{axis}[panel, at={(33.44mm,16.22mm)},
  ymin=-0.00878, ymax=0.14,
  ytick={0,0.02,0.04,0.06,0.08,0.10,0.12,0.14},
  yticklabels={0,0.02,0.04,0.06,0.08,0.10,0.12,0.14}]
\addplot[dots] table[x=d, y=c] {\data};
\addplot[dots] table[x=d, y=c] {\dataE};
\addplot[band] coordinates {(1,0.0195)(136,0.014)(271,0.0112)(271,0.0072)(136,0.0116)(1,0.0143)};
\addplot[band] coordinates {(271,0.0112)(349,0.0094)(427,0.0108)(427,0.0065)(349,0.0078)(271,0.0072)};
\addplot[band] coordinates {(427,0.0125)(773,0.0322)(1120,0.0575)(1120,0.0445)(773,0.0272)(427,0.0055)};
\addplot[fit] coordinates {(1,0.0168)(271,0.0092)};
\addplot[fit] coordinates {(271,0.0092)(427,0.0086)};
\addplot[fit] coordinates {(427,0.0088)(1120,0.051)};
\addplot[pline] coordinates {(271,0)(271,0.14)};
\addplot[pline] coordinates {(427,0)(427,0.14)};
\node[plab, anchor=base east] at ([yshift=1.66mm]axis cs:273,0.14) {Policy 1};
\node[plab, anchor=base west] at ([yshift=1.66mm]axis cs:425,0.14) {Policy 2};
\end{axis}

% ---------------- Titles and labels ----------------
\node[pbox] at (19.2mm,199.8mm) {A};
\node[ptitle] at (24.6mm,198.2mm) {Awareness and knowledge};
\node[pbox] at (172.6mm,199.8mm) {B};
\node[ptitle] at (178.2mm,198.2mm) {Knowledge of HPV and vaccines};
\node[pbox] at (19.2mm,95.6mm) {C};
\node[ptitle] at (24.6mm,94.0mm) {Recognition of vaccine importance};

\node[ylab] at (21.2mm,157mm) {Theme rate, \%};
\node[ylab] at (170mm,157mm) {Topic rate, \%};
\node[ylab] at (18.6mm,52.8mm) {Topic rate, \%};

\node[xlab] at (88.2mm,109.8mm) {Days};
\node[xlab] at (237.4mm,109.8mm) {Days};
\node[xlab] at (88.2mm,5.4mm) {Days};
\end{tikzpicture}
\end{document}
